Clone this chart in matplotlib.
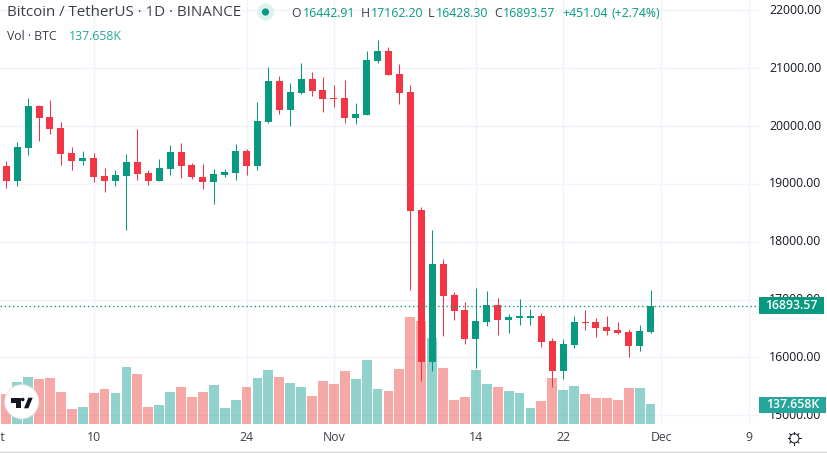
import matplotlib
matplotlib.use("Agg")
import matplotlib.pyplot as plt
from matplotlib.patches import Circle, Polygon, Rectangle

opens = [19310, 19050, 19621, 20347, 20156, 19966, 19534, 19396, 19448, 19137,
         19050, 19137, 19379, 19189, 19050, 19258, 19551, 19327, 19119, 19033,
         19154, 19189, 19569, 19310, 20070, 20779, 20277, 20571, 20813, 20623,
         20479, 20485, 20139, 20191, 21124, 21297, 20900, 20589, 18549, 15922,
         17616, 17080, 16821, 16320, 16613, 16907, 16648, 16682, 16682, 16717,
         16285, 15766, 16216, 16613, 16613, 16527, 16475, 16441, 16199, 16442.91]
closes = [19050, 19638, 20347, 20139, 19949, 19517, 19396, 19448, 19119, 19050,
          19154, 19379, 19171, 19050, 19275, 19551, 19310, 19119, 19033, 19171,
          19206, 19569, 19310, 20087, 20779, 20277, 20589, 20813, 20606, 20468,
          20473, 20139, 20208, 21142, 21297, 20882, 20571, 18532, 15922, 17616,
          17063, 16803, 16320, 16631, 16907, 16648, 16700, 16717, 16717, 16268,
          15766, 16233, 16613, 16602, 16509, 16458, 16423, 16199, 16458, 16893.57]
highs = [19396, 19724, 20485, 20364, 20450, 20070, 19638, 19569, 19534, 19275,
         19240, 19517, 19949, 19240, 19431, 19673, 19707, 19361, 19344, 19258,
         19258, 19690, 19603, 20416, 21021, 20865, 20744, 21090, 20934, 20848,
         20710, 20796, 20398, 21297, 21487, 21366, 21072, 20710, 18601, 18204,
         17702, 17132, 16959, 17201, 17149, 17028, 16752, 17011, 16838, 16769,
         16337, 16320, 16717, 16821, 16682, 16717, 16613, 16492, 16562, 17162.20]
lows = [18929, 18964, 19500, 19742, 19863, 19327, 19240, 19327, 19033, 18860,
        18964, 18204, 19068, 18981, 19050, 19154, 19102, 19085, 18912, 18653,
        19119, 19068, 19154, 19240, 20053, 20208, 20001, 20554, 20519, 20243,
        20329, 20053, 20035, 20191, 21090, 20882, 20381, 17166, 15594, 15766,
        16371, 16648, 16233, 15818, 16544, 16389, 16423, 16562, 16562, 16181,
        15490, 15628, 16164, 16475, 16354, 16389, 16406, 16009, 16112, 16428.30]
volumes = [206, 289, 323, 310, 317, 220, 103, 117, 213, 241,
           213, 392, 344, 117, 131, 220, 255, 186, 220, 268,
           110, 165, 255, 317, 372, 323, 282, 255, 193, 296,
           275, 365, 310, 440, 241, 227, 379, 736, 709, 592,
           385, 165, 186, 372, 275, 255, 227, 213, 110, 158,
           317, 234, 262, 206, 179, 179, 165, 248, 248, 137.658]

price_ticks = [15000, 16000, 17000, 18000, 19000, 20000, 21000, 22000]
time_positions = [-1, 8, 22, 30, 43, 51, 60, 68]
time_labels = ["Oct", "10", "24", "Nov", "14", "22", "Dec", "9"]

last_close = closes[-1]
last_volume = volumes[-1]

GREEN = "#089981"
RED = "#f23645"
GRID = "#f0f3fa"
TEXT = "#131722"
W, H = 827, 453

plt.rcParams["font.family"] = ["Open Sans", "DejaVu Sans"]
fig = plt.figure(figsize=(W / 100, H / 100), dpi=100, facecolor="white")

# chart panes share one pixel box, volume sits behind the candles
box = [0, 1 - 424 / H, 759 / W, 424 / H]
vol_ax = fig.add_axes(box, zorder=1)
ax = fig.add_axes(box, zorder=2)
ax.patch.set_alpha(0)

xs = list(range(len(closes)))
colors = [GREEN if c >= o else RED for o, c in zip(opens, closes)]
vol_colors = ["#26a69a" if c >= o else "#ef5350" for o, c in zip(opens, closes)]

vol_ax.bar(xs, volumes, width=0.9, color=vol_colors, alpha=0.5, linewidth=0, zorder=2)
vol_ax.set_ylim(0, 2918)

ax.vlines(xs, lows, highs, colors=colors, linewidth=0.75, zorder=3)
bottoms = [min(o, c) for o, c in zip(opens, closes)]
heights = [max(abs(c - o), 12) for o, c in zip(opens, closes)]
ax.bar(xs, heights, bottom=bottoms, width=0.64, color=colors, linewidth=0, zorder=4)
ax.axhline(last_close, color=GREEN, linewidth=1, linestyle=(0, (1, 2)), zorder=5)
ax.set_ylim(14850, 22178)

for a in (ax, vol_ax):
    a.set_xlim(-0.577, 68.93)
    a.set_xticks([])
    a.set_yticks([])
    for s in a.spines.values():
        s.set_visible(False)

# grid goes on the volume pane so it stays under everything
grid_ys = [(p - 14850) / (22178 - 14850) for p in price_ticks]
for gy in grid_ys:
    vol_ax.axhline(gy * 2918, color=GRID, linewidth=1, zorder=0)
for t in time_positions:
    vol_ax.axvline(t, color=GRID, linewidth=1, zorder=0)

# overlay in pixel coordinates for labels and icons
ov = fig.add_axes([0, 0, 1, 1], zorder=3)
ov.set_xlim(0, W)
ov.set_ylim(H, 0)
ov.axis("off")
ov.patch.set_alpha(0)

for p in price_ticks:
    y = 10.3 + (22000 - p) * 0.05786
    ov.text(769, y, f"{p:.2f}", fontsize=8.8, color=TEXT, va="center", ha="left")

for t, lab in zip(time_positions, time_labels):
    ov.text(6.3 + t * 10.92, 437.5, lab, fontsize=8.8, color="#3c3f48", va="center", ha="center")

ov.add_patch(Rectangle((759, 297), 65, 17, color=GREEN, linewidth=0, zorder=4))
ov.text(791.5, 305.8, f"{last_close:.2f}", fontsize=8.8, color="white", weight="semibold",
        va="center", ha="center", zorder=5)
ov.add_patch(Rectangle((759, 396.5), 67, 16.5, color="#26a69a", linewidth=0, zorder=4))
ov.text(792.5, 405, f"{last_volume:.3f}K", fontsize=8.8, color="white", weight="semibold",
        va="center", ha="center", zorder=5)

# header
ov.text(7, 13, "Bitcoin / TetherUS · 1D · BINANCE", fontsize=10.9, color="#3c3f48", va="center")
ov.text(7, 36.5, "Vol · BTC", fontsize=8.8, color="#3c3f48", va="center")
ov.text(68.5, 36.5, f"{last_volume:.3f}K", fontsize=8.8, color="#26a69a", va="center")
ov.add_patch(Circle((265.5, 12), 8.5, color="#ddf2ee", linewidth=0))
ov.add_patch(Circle((265.5, 12), 3.6, color=GREEN, linewidth=0))

ohlc = [("O", 291.5, "16442.91", 302.5), ("H", 360.5, "17162.20", 371),
        ("L", 428, "16428.30", 436), ("C", 494, "16893.57", 503)]
for letter, lx, value, vx in ohlc:
    ov.text(lx, 13.5, letter, fontsize=8.8, color="#3c3f48", va="center")
    ov.text(vx, 13.5, value, fontsize=8.8, color=GREEN, va="center")
ov.text(562, 13.5, "+451.04", fontsize=8.8, color=GREEN, va="center")
ov.text(612, 13.5, "(+2.74%)", fontsize=8.8, color=GREEN, va="center")

# tradingview badge
ov.add_patch(Circle((21.7, 401.7), 17.5, color="#e3e6ec", linewidth=0, zorder=6))
ov.add_patch(Circle((21.7, 401.7), 16.5, color="white", linewidth=0, zorder=6))
ov.add_patch(Polygon([(10.7, 397.7), (20.7, 397.7), (20.7, 408.3), (15.7, 408.3),
                      (15.7, 402.7), (10.7, 402.7)], color="#131722", linewidth=0, zorder=7))
ov.add_patch(Circle((22.7, 399.5), 1.8, color="#131722", linewidth=0, zorder=7))
ov.add_patch(Polygon([(24, 408.3), (28.3, 397.7), (32.7, 397.7), (28.4, 408.3)],
                     color="#131722", linewidth=0, zorder=7))

# settings sun icon
ov.add_patch(Circle((794.3, 438.3), 4.6, fill=False, edgecolor="#131722", linewidth=0.7))
for dx, dy in [(0, -1), (0, 1), (-1, 0), (1, 0), (-.7, -.7), (.7, -.7), (-.7, .7), (.7, .7)]:
    ov.plot([794.3 + dx * 4.6, 794.3 + dx * 6.6], [438.3 + dy * 4.6, 438.3 + dy * 6.6],
            color="#131722", linewidth=0.7)

ov.plot([0, W], [452, 452], color="#d6d6d6", linewidth=1)

fig.savefig("out.png", dpi=100)
